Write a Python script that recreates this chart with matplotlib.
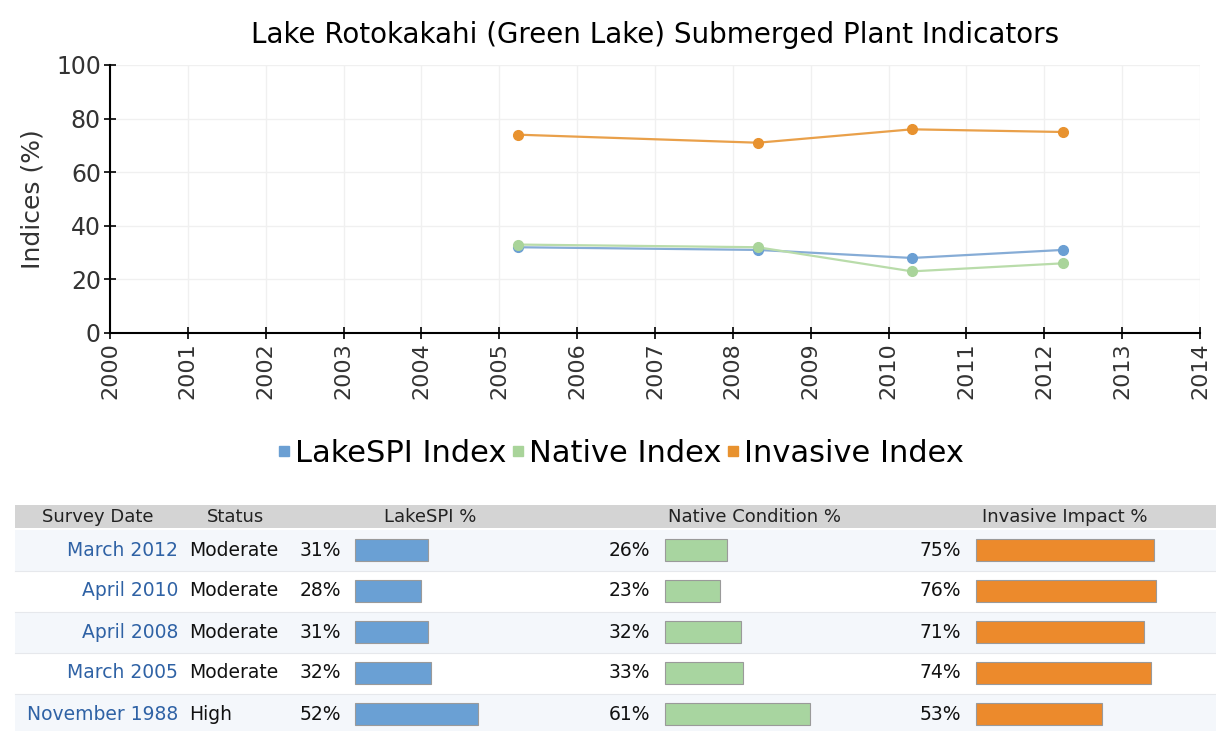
import numpy as np
import matplotlib
matplotlib.use("Agg")
import matplotlib.pyplot as plt
from matplotlib.lines import Line2D

# survey data (decimal year of survey, chronological)
survey_years = [2005.24, 2008.32, 2010.30, 2012.24]
lakespi = [32, 31, 28, 31]
native = [33, 32, 23, 26]
invasive = [74, 71, 76, 75]

# table rows (newest first)
table_dates = ["March 2012", "April 2010", "April 2008", "March 2005", "November 1988"]
table_status = ["Moderate", "Moderate", "Moderate", "Moderate", "High"]
table_lakespi = [31, 28, 31, 32, 52]
table_native = [26, 23, 32, 33, 61]
table_invasive = [75, 76, 71, 74, 53]

year_ticks = list(range(2000, 2015))
y_ticks = [0, 20, 40, 60, 80, 100]

blue_line = "#86acd6"
green_line = "#b9dcaa"
orange_line = "#e9a04a"
blue_dot = "#6b9fd3"
green_dot = "#a9d49a"
orange_dot = "#e8922f"
blue_bar = "#6aa0d4"
green_bar = "#a8d5a0"
orange_bar = "#ec8a2c"

plt.rcParams['font.family'] = ['DejaVu Sans']

fig = plt.figure(figsize=(12.16, 7.31), dpi=100)

# ---- line chart ----
ax = fig.add_axes([110 / 1216, 1 - 333 / 731, 1090 / 1216, 268 / 731])
ax.plot(survey_years, lakespi, color=blue_line, lw=1.6, marker="o", ms=7,
        mfc=blue_dot, mec=blue_dot, zorder=3)
ax.plot(survey_years, native, color=green_line, lw=1.6, marker="o", ms=7,
        mfc=green_dot, mec=green_dot, zorder=3)
ax.plot(survey_years, invasive, color=orange_line, lw=1.6, marker="o", ms=7,
        mfc=orange_dot, mec=orange_dot, zorder=3)

ax.set_xlim(2000, 2014)
ax.set_ylim(0, 100)
ax.set_xticks(year_ticks)
ax.set_xticklabels([str(y) for y in year_ticks], rotation=90, fontsize=16,
                   color="#333333")
ax.set_yticks(y_ticks)
ax.set_yticklabels([str(v) for v in y_ticks], fontsize=17, color="#333333")
ax.tick_params(direction="inout", length=9, width=1.2, pad=2)
ax.grid(True, color="#f0f0f0", lw=1)
ax.set_axisbelow(True)
for s in ["top", "right"]:
    ax.spines[s].set_visible(False)
for s in ["left", "bottom"]:
    ax.spines[s].set_linewidth(1.5)
ax.set_ylabel("Indices (%)", fontsize=18, color="#333333", labelpad=8)
ax.set_title("Lake Rotokakahi (Green Lake) Submerged Plant Indicators",
             fontsize=20, pad=16)

handles = [Line2D([], [], ls="none", marker="s", ms=7, mfc=c, mec=c)
           for c in [blue_dot, green_dot, orange_dot]]
fig.legend(handles, ["LakeSPI Index", "Native Index", "Invasive Index"],
           loc="center", bbox_to_anchor=(0.51, 1 - 453 / 731), ncol=3,
           frameon=False, fontsize=22, handlelength=0.5, handletextpad=0.1,
           columnspacing=0.15)

# ---- summary table (pixel coordinates) ----
tx = fig.add_axes([0, 0, 1, 1], zorder=-1)
tx.set_xlim(0, 1216)
tx.set_ylim(731, 0)
tx.axis("off")

row_h = 41
row0 = 550
tx.barh(516.5, 1216 - 15, left=15, height=23, color="#d4d4d4", zorder=1)
hdr_kw = dict(fontsize=13, va="center", color="#222222")
tx.text(98, 517, "Survey Date", ha="center", **hdr_kw)
tx.text(236, 517, "Status", ha="center", **hdr_kw)
tx.text(430, 517, "LakeSPI %", ha="center", **hdr_kw)
tx.text(755, 517, "Native Condition %", ha="center", **hdr_kw)
tx.text(1065, 517, "Invasive Impact %", ha="center", **hdr_kw)

scale = 2.37
cols = [(table_lakespi, 341, 355, blue_bar),
        (table_native, 650, 665, green_bar),
        (table_invasive, 961, 976, orange_bar)]
for i in range(len(table_dates)):
    yc = row0 + i * row_h
    bg = "#f4f7fb" if i % 2 == 0 else "white"
    tx.barh(yc, 1216 - 15, left=15, height=row_h, color=bg, zorder=0)
    tx.plot([15, 1216], [yc + row_h / 2, yc + row_h / 2], color="#e6e8ec",
            lw=0.8, zorder=1)
    cell_kw = dict(fontsize=13.5, va="center")
    tx.text(178, yc, table_dates[i], ha="right", color="#2f62a5", **cell_kw)
    tx.text(189, yc, table_status[i], ha="left", color="#111111", **cell_kw)
    for vals, tx_right, bar_left, col in cols:
        tx.text(tx_right, yc, f"{vals[i]}%", ha="right", color="#111111",
                **cell_kw)
        tx.barh(yc, vals[i] * scale, left=bar_left, height=22, color=col,
                edgecolor="#9a9a9a", lw=0.8, zorder=2)

fig.savefig("out.png", dpi=100)
